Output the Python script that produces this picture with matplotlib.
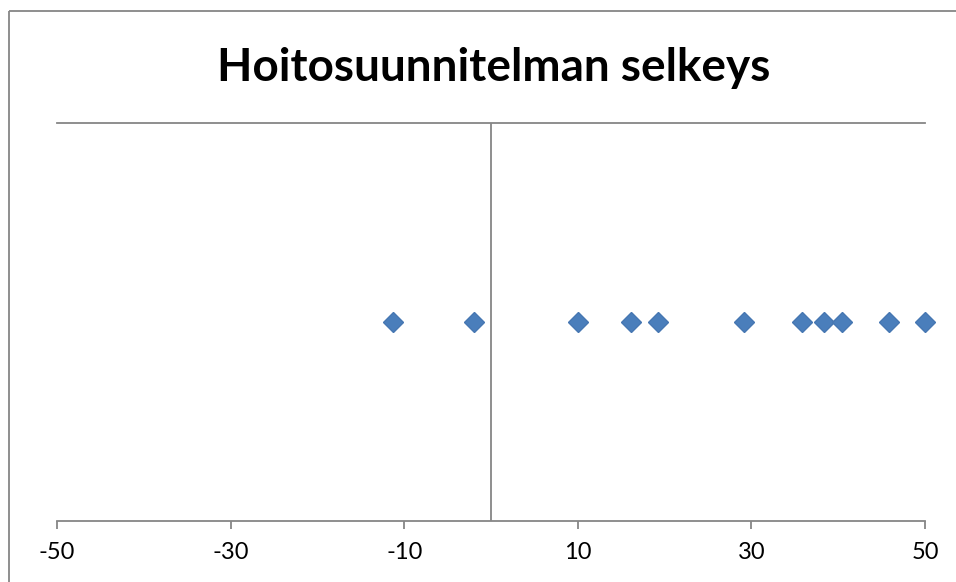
import matplotlib
matplotlib.use('Agg')
import matplotlib.pyplot as plt

# arvot luettu kuvasta
x_values = [-11.3, -2.0, 10.0, 16.1, 19.2, 29.2, 35.8, 38.4, 40.4, 45.8, 50.0]
y_values = [1] * len(x_values)
x_ticks = [-50, -30, -10, 10, 30, 50]

GREY = '#868686'

plt.rcParams['font.family'] = ['Lato', 'DejaVu Sans']

fig = plt.figure(figsize=(9.56, 5.82), dpi=100)
ax = fig.add_axes([0.0596, 0.1048, 0.9080, 0.6839])

ax.plot(x_values, y_values, linestyle='none', marker='D', markersize=10,
        color='#4A7EBB', markeredgecolor='#4677B2', clip_on=False, zorder=3)

ax.set_xlim(-50, 50)
ax.set_ylim(0, 2)
ax.axvline(0, color=GREY, lw=1.3, zorder=1)

ax.set_xticks(x_ticks)
ax.set_xticklabels([str(t) for t in x_ticks])
ax.set_yticks([])
ax.tick_params(axis='x', direction='out', length=6, width=1.3, color=GREY,
               labelsize=17, pad=9)

for side in ['left', 'right']:
    ax.spines[side].set_visible(False)
for side in ['top', 'bottom']:
    ax.spines[side].set_color(GREY)
    ax.spines[side].set_linewidth(1.3)

fig.text(0.516, 0.884, 'Hoitosuunnitelman selkeys', ha='center', va='center',
         fontsize=33, fontweight='bold')

# kaavion reunaviiva (vain vasen ja ylä näkyvät)
fig.add_artist(plt.Line2D([0.0094, 0.0094], [0, 0.981], transform=fig.transFigure,
                          color=GREY, lw=1.3, solid_capstyle='butt'))
fig.add_artist(plt.Line2D([0.0094, 1.01], [0.981, 0.981], transform=fig.transFigure,
                          color=GREY, lw=1.3, solid_capstyle='butt'))

fig.savefig('out.png', dpi=100)
